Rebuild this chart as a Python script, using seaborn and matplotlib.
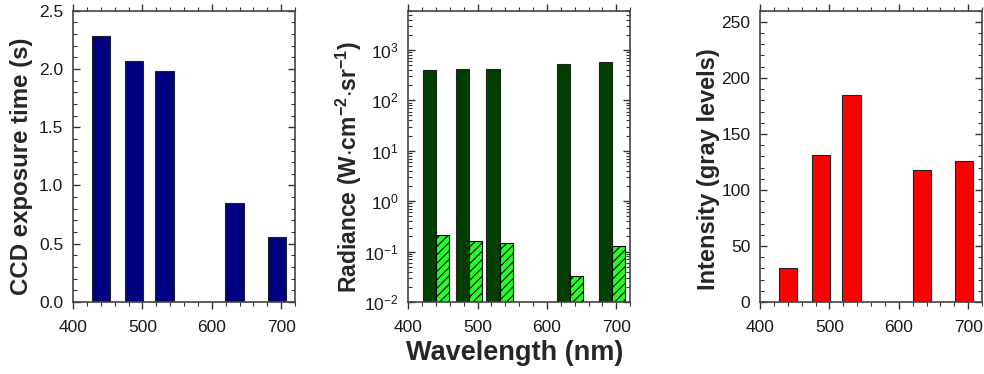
import matplotlib
matplotlib.use("Agg")
import matplotlib.pyplot as plt
from matplotlib.ticker import MultipleLocator, LogLocator, NullFormatter
import seaborn as sns
import pandas as pd
import numpy as np

wavelengths = [440, 488, 532, 633, 694]
exposure_s = [2.28, 2.07, 1.98, 0.85, 0.56]
radiance_dark = [395, 415, 420, 520, 580]
radiance_hatched = [0.21, 0.16, 0.145, 0.033, 0.128]
intensity_gray = [30, 131, 185, 118, 126]
series_names = ["dark", "hatched"]

sns.set_style("ticks")
plt.rcParams["font.family"] = ["Liberation Sans", "DejaVu Sans"]
plt.rcParams["mathtext.default"] = "regular"
plt.rcParams["hatch.linewidth"] = 0.8

fig = plt.figure(figsize=(9.84, 3.74), dpi=100)
ax1 = fig.add_axes([0.0742, 0.1925, 0.2256, 0.779])
ax2 = fig.add_axes([0.4148, 0.1925, 0.2256, 0.779])
ax3 = fig.add_axes([0.7724, 0.1925, 0.2256, 0.779])

edge = "#222222"

# panel 1: exposure time
df1 = pd.DataFrame({"wl": wavelengths, "val": exposure_s})
sns.barplot(data=df1, x="wl", y="val", native_scale=True, width=0.6,
            color="#000080", saturation=1, edgecolor=edge, linewidth=0.8, ax=ax1)
ax1.set_ylim(0, 2.5)
ax1.yaxis.set_major_locator(MultipleLocator(0.5))
ax1.yaxis.set_minor_locator(MultipleLocator(0.1))
ax1.yaxis.set_major_formatter(plt.FormatStrFormatter("%.1f"))
ax1.set_ylabel("CCD exposure time (s)", fontsize=17.3, fontweight="bold")
ax1.yaxis.set_label_coords(-0.18, 0.465)

# panel 2: radiance, log scale
df2 = pd.DataFrame({
    "wl": wavelengths * 2,
    "val": radiance_dark + radiance_hatched,
    "kind": [series_names[0]] * 5 + [series_names[1]] * 5,
})
sns.barplot(data=df2, x="wl", y="val", hue="kind", native_scale=True, width=0.87,
            palette=["#003f00", "#22ff22"], saturation=1, edgecolor=edge,
            linewidth=0.8, gap=0, legend=False, ax=ax2)
for bar in ax2.containers[1]:
    bar.set_hatch("////")
    bar.set_edgecolor("black")
ax2.set_yscale("log")
ax2.set_ylim(1e-2, 6e3)
ax2.yaxis.set_major_locator(LogLocator(base=10, numticks=10))
ax2.yaxis.set_minor_locator(LogLocator(base=10, subs=np.arange(2, 10), numticks=10))
ax2.yaxis.set_minor_formatter(NullFormatter())
ax2.set_ylabel(r"Radiance (W$\cdot$cm$^{-2}$$\cdot$sr$^{-1}$)", fontsize=16.5,
               fontweight="bold")
ax2.yaxis.set_label_coords(-0.2, 0.462)

# panel 3: intensity
df3 = pd.DataFrame({"wl": wavelengths, "val": intensity_gray})
sns.barplot(data=df3, x="wl", y="val", native_scale=True, width=0.6,
            color="#ff0000", saturation=1, edgecolor=edge, linewidth=0.8, ax=ax3)
ax3.set_ylim(0, 260)
ax3.yaxis.set_major_locator(MultipleLocator(50))
ax3.yaxis.set_minor_locator(MultipleLocator(10))
ax3.set_ylabel("Intensity (gray levels)", fontsize=17, fontweight="bold")
ax3.yaxis.set_label_coords(-0.18, 0.455)

for ax in (ax1, ax2, ax3):
    ax.set_xlim(400, 720)
    ax.xaxis.set_major_locator(MultipleLocator(100))
    ax.xaxis.set_minor_locator(MultipleLocator(20))
    ax.set_xlabel("")
    ax.tick_params(axis="x", which="both", direction="out", top=True, bottom=True,
                   labelsize=12.5, colors="#333333", labelcolor="#1a1a1a", pad=8)
    ax.tick_params(axis="y", which="both", direction="in", left=True, right=True,
                   labelsize=12.5, colors="#333333", labelcolor="#1a1a1a", pad=7)
    ax.tick_params(which="major", length=5, width=1)
    ax.tick_params(which="minor", length=3, width=0.8)
    for s in ax.spines.values():
        s.set_visible(True)
        s.set_color("#444444")
        s.set_linewidth(1.2)

fig.text(0.523, 0.055, "Wavelength (nm)", ha="center", va="center",
         fontsize=19.5, fontweight="bold")

fig.savefig("out.png", dpi=100)
